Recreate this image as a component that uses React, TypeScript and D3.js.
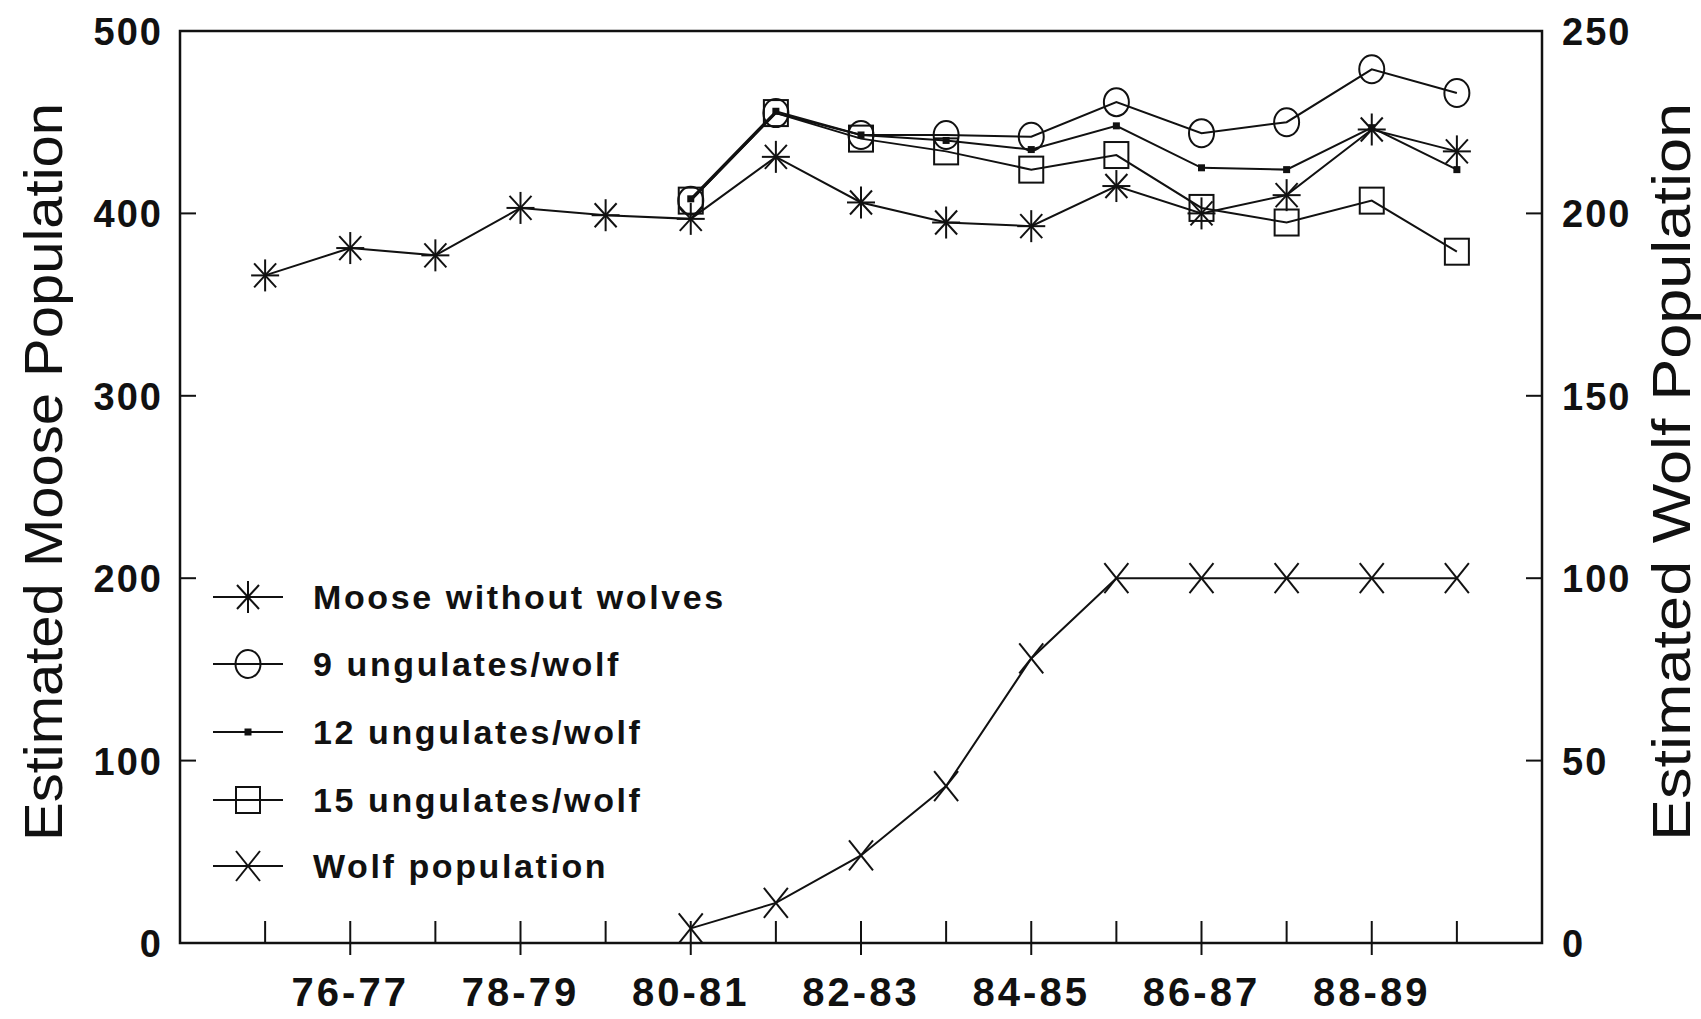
import React from 'react';
import * as d3 from 'd3';

const years = ['75-76', '76-77', '77-78', '78-79', '79-80', '80-81', '81-82', '82-83',
  '83-84', '84-85', '85-86', '86-87', '87-88', '88-89', '89-90'];
const labeledYears = ['76-77', '78-79', '80-81', '82-83', '84-85', '86-87', '88-89'];

const mooseNoWolves = [366, 381, 377, 403, 399, 397, 431, 406, 395, 393, 415, 400, 410, 446, 434];
const ungulates9 = [null, null, null, null, null, 407, 455, 443, 443, 442, 461, 444, 450, 479, 466];
const ungulates12 = [null, null, null, null, null, 408, 456, 443, 440, 435, 448, 425, 424, 447, 424];
const ungulates15 = [null, null, null, null, null, 407, 455, 441, 434, 424, 432, 403, 395, 407, 379];
const wolves = [null, null, null, null, null, 4, 11, 24, 43, 78, 100, 100, 100, 100, 100];

const leftTicks = [0, 100, 200, 300, 400, 500];
const rightTicks = [0, 50, 100, 150, 200, 250];

const W = 1701;
const H = 1019;
const left = 180, right = 1542, top = 31, bottom = 943;

const x = d3.scalePoint<string>().domain(years).range([left, right]).padding(1);
const yL = d3.scaleLinear().domain([0, 500]).range([bottom, top]);
const yR = d3.scaleLinear().domain([0, 250]).range([bottom, top]);

const ink = '#111';

type Kind = 'star' | 'circle' | 'dot' | 'square' | 'x';

const Marker = ({ kind, cx, cy }: { kind: Kind; cx: number; cy: number }) => {
  const s = { stroke: ink, strokeWidth: 2, fill: 'none' };
  if (kind === 'star') {
    return (
      <g {...s}>
        <line x1={cx} y1={cy - 16} x2={cx} y2={cy + 16} />
        <line x1={cx - 14} y1={cy} x2={cx + 14} y2={cy} />
        <line x1={cx - 11} y1={cy - 12} x2={cx + 11} y2={cy + 12} />
        <line x1={cx - 11} y1={cy + 12} x2={cx + 11} y2={cy - 12} />
      </g>
    );
  }
  if (kind === 'circle') {
    return <ellipse cx={cx} cy={cy} rx={12.5} ry={14} fill="none" stroke={ink} strokeWidth={2} />;
  }
  if (kind === 'dot') {
    return <rect x={cx - 3.5} y={cy - 3.5} width={7} height={7} fill={ink} />;
  }
  if (kind === 'square') {
    return <rect x={cx - 12} y={cy - 13} width={24} height={26} fill="none" stroke={ink} strokeWidth={2} />;
  }
  return (
    <g {...s}>
      <line x1={cx - 12} y1={cy - 15} x2={cx + 12} y2={cy + 15} />
      <line x1={cx - 12} y1={cy + 15} x2={cx + 12} y2={cy - 15} />
    </g>
  );
};

const series: { name: string; values: (number | null)[]; kind: Kind; scale: d3.ScaleLinear<number, number> }[] = [
  { name: 'Moose without wolves', values: mooseNoWolves, kind: 'star', scale: yL },
  { name: '9 ungulates/wolf', values: ungulates9, kind: 'circle', scale: yL },
  { name: '12 ungulates/wolf', values: ungulates12, kind: 'dot', scale: yL },
  { name: '15 ungulates/wolf', values: ungulates15, kind: 'square', scale: yL },
  { name: 'Wolf population', values: wolves, kind: 'x', scale: yR },
];

const legendRows = [597, 664, 732, 800, 866];

export default function App() {
  const font = '"Liberation Sans", Arial, Helvetica, sans-serif';
  return (
    <svg width={W} height={H} style={{ display: 'block', position: 'absolute', left: 0, top: 0, background: 'white' }}>
      <rect width={W} height={H} fill="white" />
      {/* frame */}
      <rect x={left} y={top} width={right - left} height={bottom - top} fill="none" stroke={ink} strokeWidth={2.5} />

      {/* x ticks */}
      {years.map(yr => {
        const lab = labeledYears.includes(yr);
        return (
          <g key={yr}>
            <line x1={x(yr)} x2={x(yr)} y1={bottom - 22} y2={lab ? bottom + 12 : bottom} stroke={ink} strokeWidth={2} />
            {lab && (
              <text x={x(yr)} y={1006} textAnchor="middle" fontFamily={font} fontWeight="bold" fontSize={40} letterSpacing={3} fill={ink}>
                {yr}
              </text>
            )}
          </g>
        );
      })}

      {/* left ticks */}
      {leftTicks.map(t => (
        <g key={'l' + t}>
          {t > 0 && t < 500 && <line x1={left} x2={left + 16} y1={yL(t)} y2={yL(t)} stroke={ink} strokeWidth={2} />}
          <text x={163} y={yL(t) + 14} textAnchor="end" fontFamily={font} fontWeight="bold" fontSize={38} letterSpacing={2} fill={ink}>
            {t}
          </text>
        </g>
      ))}

      {/* right ticks */}
      {rightTicks.map(t => (
        <g key={'r' + t}>
          {t > 0 && t < 250 && <line x1={right - 16} x2={right} y1={yR(t)} y2={yR(t)} stroke={ink} strokeWidth={2} />}
          <text x={1562} y={yR(t) + 14} textAnchor="start" fontFamily={font} fontWeight="bold" fontSize={38} letterSpacing={2} fill={ink}>
            {t}
          </text>
        </g>
      ))}

      {/* axis titles */}
      <text transform={`translate(62,472) rotate(-90)`} textAnchor="middle" fontFamily={font} fontSize={54} fill={ink} textLength={738} lengthAdjust="spacingAndGlyphs">
        Estimated Moose Population
      </text>
      <text transform={`translate(1690,472) rotate(-90)`} textAnchor="middle" fontFamily={font} fontSize={54} fill={ink} textLength={738} lengthAdjust="spacingAndGlyphs">
        Estimated Wolf Population
      </text>

      {/* series */}
      {series.map(s => {
        const pts = years.map((yr, i) => ({ yr, v: s.values[i] })).filter(d => d.v !== null) as { yr: string; v: number }[];
        const line = d3.line<{ yr: string; v: number }>().x(d => x(d.yr)!).y(d => s.scale(d.v));
        return (
          <g key={s.name}>
            <path d={line(pts) || ''} fill="none" stroke={ink} strokeWidth={2} />
          </g>
        );
      })}
      {series.map(s => (
        <g key={s.name + 'm'}>
          {years.map((yr, i) => {
            const v = s.values[i];
            if (v === null) return null;
            return <Marker key={yr} kind={s.kind} cx={x(yr)!} cy={s.scale(v)} />;
          })}
        </g>
      ))}

      {/* legend */}
      {series.map((s, i) => {
        const cy = legendRows[i];
        return (
          <g key={s.name + 'leg'}>
            <line x1={213} x2={283} y1={cy} y2={cy} stroke={ink} strokeWidth={2} />
            <Marker kind={s.kind} cx={248} cy={cy} />
            <text x={313} y={cy + 12} fontFamily={font} fontWeight="bold" fontSize={34} letterSpacing={2.6} fill={ink}>
              {s.name}
            </text>
          </g>
        );
      })}
    </svg>
  );
}
